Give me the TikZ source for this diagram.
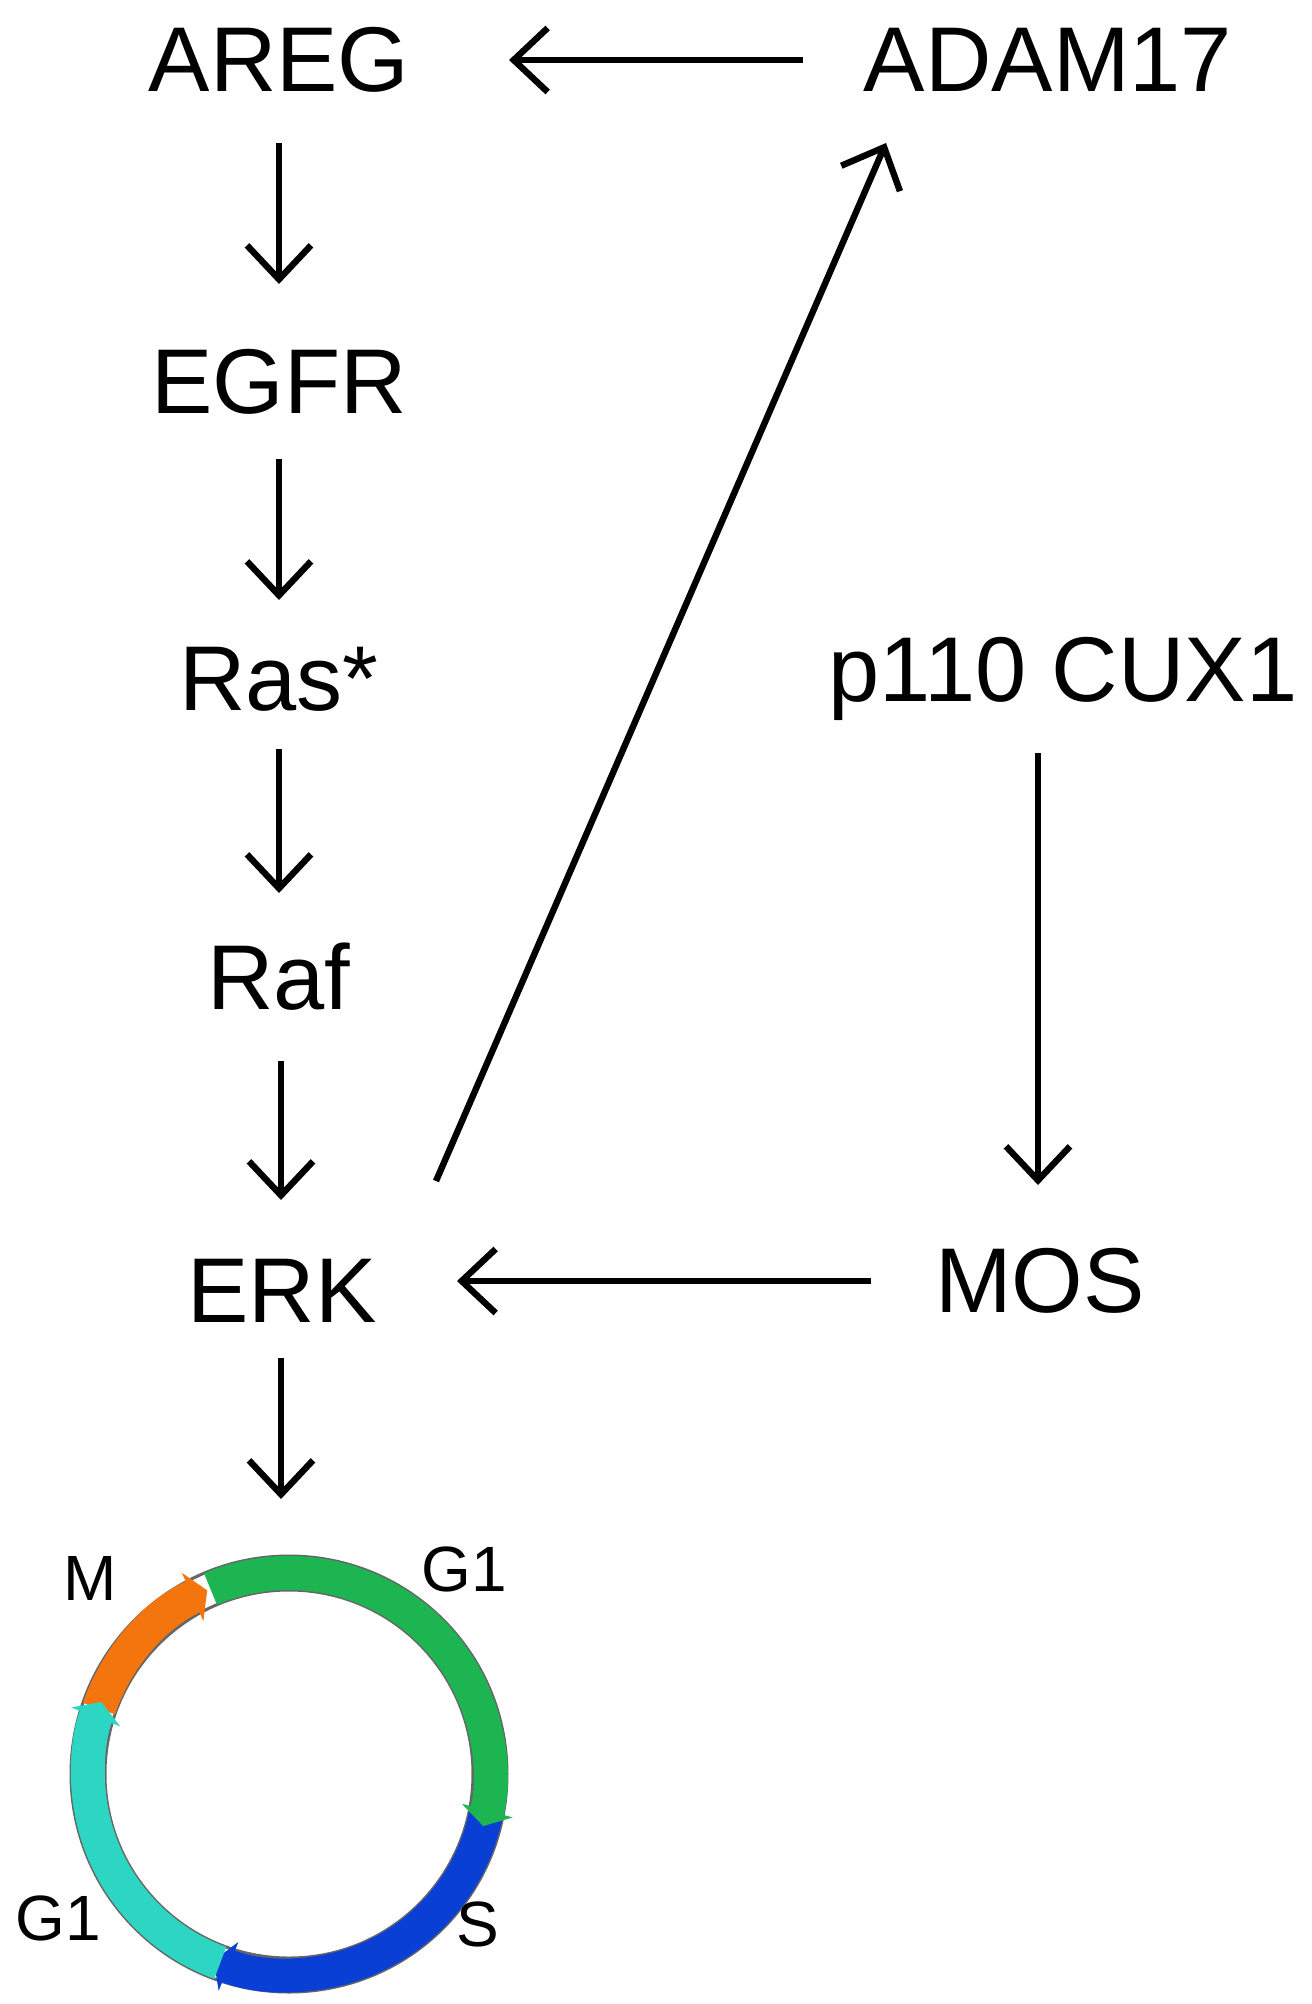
\documentclass[tikz,border=0pt]{standalone}
\usepackage{fontspec}
\setmainfont{Liberation Sans}
\usetikzlibrary{arrows.meta}
\definecolor{cgreen}{HTML}{1DB552}
\definecolor{cblue}{HTML}{0A3FD6}
\definecolor{cturq}{HTML}{2DD6C2}
\definecolor{corange}{HTML}{F4750E}
\begin{document}
\begin{tikzpicture}[x=0.5pt,y=-0.5pt,
  lbl/.style={font=\fontsize{46}{50}\selectfont,inner sep=0pt},
  cl/.style={font=\fontsize{32}{36}\selectfont,inner sep=0pt},
  arr/.style={line width=3.2pt,-{Straight Barb[length=17pt,width=32pt,line width=3.2pt]}},
  ph/.style={line width=17pt,-{Triangle[length=8pt,width=26pt]}}]
\useasboundingbox (0,0) rectangle (1312,2004);
\node[lbl] (areg) at (279,60) {AREG};
\node[lbl] (adam) at (1048,60) {ADAM17};
\node[lbl] (egfr) at (279,382) {EGFR};
\node[lbl] (ras) at (279,679) {Ras*};
\node[lbl] (raf) at (279,977) {Raf};
\node[lbl] (erk) at (282,1291) {ERK};
\node[lbl] (cux) at (1063,679) {p110 CUX1};
\node[lbl] (mos) at (1040,1281) {MOS};
\coordinate (cyc) at (281,1499);
\coordinate (a1) at (803,60);
\coordinate (a2) at (509,60);
\draw[arr] (a1) -- (a2);
\draw[arr] (279,143) -- (279,284);
\draw[arr] (279,459) -- (279,600);
\draw[arr] (279,749) -- (279,893);
\draw[arr] (281,1061) -- (281,1200);
\draw[arr] (281,1358) -- (cyc);
\draw[arr] (436,1181) -- (886,143);
\draw[arr] (1038,753) -- (1038,1185);
\draw[arr] (871,1281) -- (457,1281);
\begin{scope}[shift={(289,1774)},y=0.5pt]
  \draw[line width=1.5pt,black!60] (0,0) circle (184);
  \draw[line width=1.5pt,black!60] (0,0) circle (218);
  \draw[ph,cblue] (-12:201) arc (-12:-112:201);
  \draw[ph,cgreen] (113:201) arc (113:-15:201);
  \draw[ph,corange] (161:201) arc (161:114:201);
  \draw[ph,cturq] (-110:201) arc (-110:-201:201);
\end{scope}
\node[cl] (m) at (90,1578) {M};
\node[cl] (g1a) at (464,1569) {G1};
\node[cl] (g1b) at (58,1918) {G1};
\node[cl] (s) at (478,1924) {S};
\end{tikzpicture}
\end{document}
